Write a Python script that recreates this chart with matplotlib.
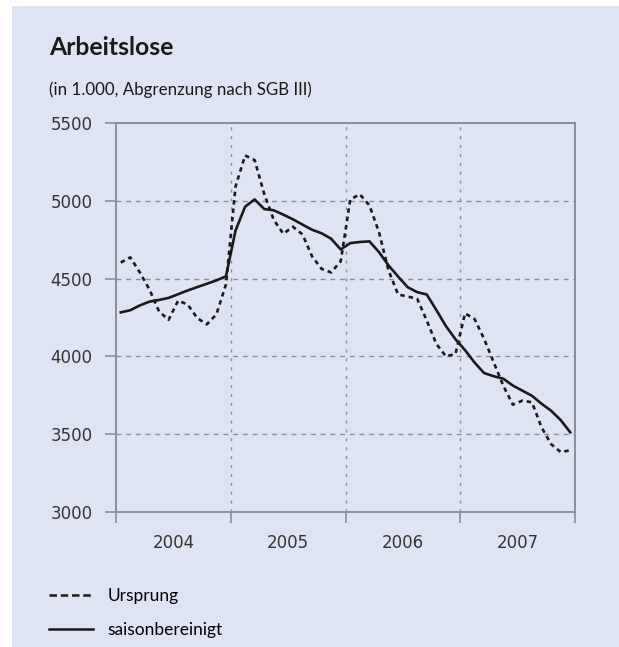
import numpy as np
import matplotlib
matplotlib.use("Agg")
import matplotlib.pyplot as plt
from matplotlib.patches import Rectangle
from matplotlib.lines import Line2D

# Monthly values Jan 2004 - Dec 2007, in thousands
years = [2004, 2005, 2006, 2007]
ursprung = [
    4604, 4637, 4539, 4430, 4289, 4235, 4359, 4333, 4246, 4206, 4270, 4463,
    5093, 5293, 5263, 5045, 4878, 4789, 4834, 4785, 4644, 4563, 4540, 4612,
    5010, 5043, 4972, 4800, 4553, 4398, 4385, 4370, 4230, 4080, 4000, 4015,
    4277, 4240, 4112, 3961, 3811, 3689, 3715, 3704, 3543, 3435, 3384, 3395,
]
saisonbereinigt = [
    4283, 4297, 4328, 4352, 4363, 4376, 4400, 4424, 4446, 4467, 4489, 4515,
    4810, 4963, 5010, 4948, 4940, 4912, 4882, 4848, 4815, 4792, 4757, 4688,
    4729, 4736, 4740, 4671, 4585, 4514, 4445, 4413, 4398, 4298, 4195, 4110,
    4040, 3960, 3892, 3872, 3856, 3812, 3779, 3746, 3695, 3650, 3590, 3511,
]
y_ticks = [3000, 3500, 4000, 4500, 5000, 5500]

bg = "#dfe4f4"
ink = "#1a1a1a"
grid_col = "#8a8e98"

# month centres as fractional years
x = years[0] + (np.arange(len(ursprung)) + 0.5) / 12

fig = plt.figure(figsize=(6.19, 6.47), dpi=100)
fig.patch.set_facecolor("white")
fig.add_artist(Rectangle((12 / 619, 0), 1, 1 - 6 / 647, transform=fig.transFigure,
                         facecolor=bg, edgecolor="none", zorder=0))

ax = fig.add_axes([116 / 619, 1 - 511.7 / 647, 459 / 619, 388.4 / 647])
ax.set_facecolor(bg)

ax.plot(x, ursprung, color=ink, lw=1.9, linestyle=(0, (1.7, 1.5)), zorder=3)
ax.plot(x, saisonbereinigt, color=ink, lw=1.9, zorder=3)

ax.set_xlim(years[0], years[-1] + 1)
ax.set_ylim(y_ticks[0], y_ticks[-1])

# year boundaries as major ticks, year names centred as minor tick labels
ax.set_xticks(list(years) + [years[-1] + 1])
ax.set_xticklabels([])
ax.set_xticks([yr + 0.5 for yr in years], minor=True)
ax.set_xticklabels([str(yr) for yr in years], minor=True)
ax.set_yticks(y_ticks)
ax.set_yticklabels([str(v) for v in y_ticks])

ax.tick_params(axis="x", which="major", length=8, width=1.2, color=grid_col, direction="out")
ax.tick_params(axis="x", which="minor", length=0, pad=16, labelsize=12, labelcolor="#333333")
ax.tick_params(axis="y", length=8, width=1.2, color=grid_col, pad=9, labelsize=12,
               labelcolor="#333333")

for s in ax.spines.values():
    s.set_color(grid_col)
    s.set_linewidth(1.4)

for v in y_ticks[1:-1]:
    ax.axhline(v, color=grid_col, lw=1, linestyle=(0, (3.5, 3.5)), zorder=1)
for yr in years[1:]:
    ax.axvline(yr, color=grid_col, lw=1, linestyle=(0, (2.2, 4.2)), zorder=1)

fig.text(49 / 619, 1 - 55 / 647, "Arbeitslose", family="Lato", weight="bold",
         fontsize=17.8, color=ink, va="baseline")
fig.text(49 / 619, 1 - 95 / 647, "(in 1.000, Abgrenzung nach SGB III)", family="Lato",
         fontsize=12.2, color=ink, va="baseline")

handles = [
    Line2D([], [], color=ink, lw=1.8, linestyle=(0, (3.0, 1.5))),
    Line2D([], [], color=ink, lw=1.8),
]
fig.legend(handles, ["Ursprung", "saisonbereinigt"], loc="upper left",
           bbox_to_anchor=(49 / 619, 1 - 588 / 647), frameon=False,
           prop={"family": "Lato", "size": 12.5}, handlelength=2.55,
           handletextpad=0.8, labelspacing=1.05, borderpad=0, borderaxespad=0)

fig.savefig("out.png", dpi=100, facecolor=fig.get_facecolor())
